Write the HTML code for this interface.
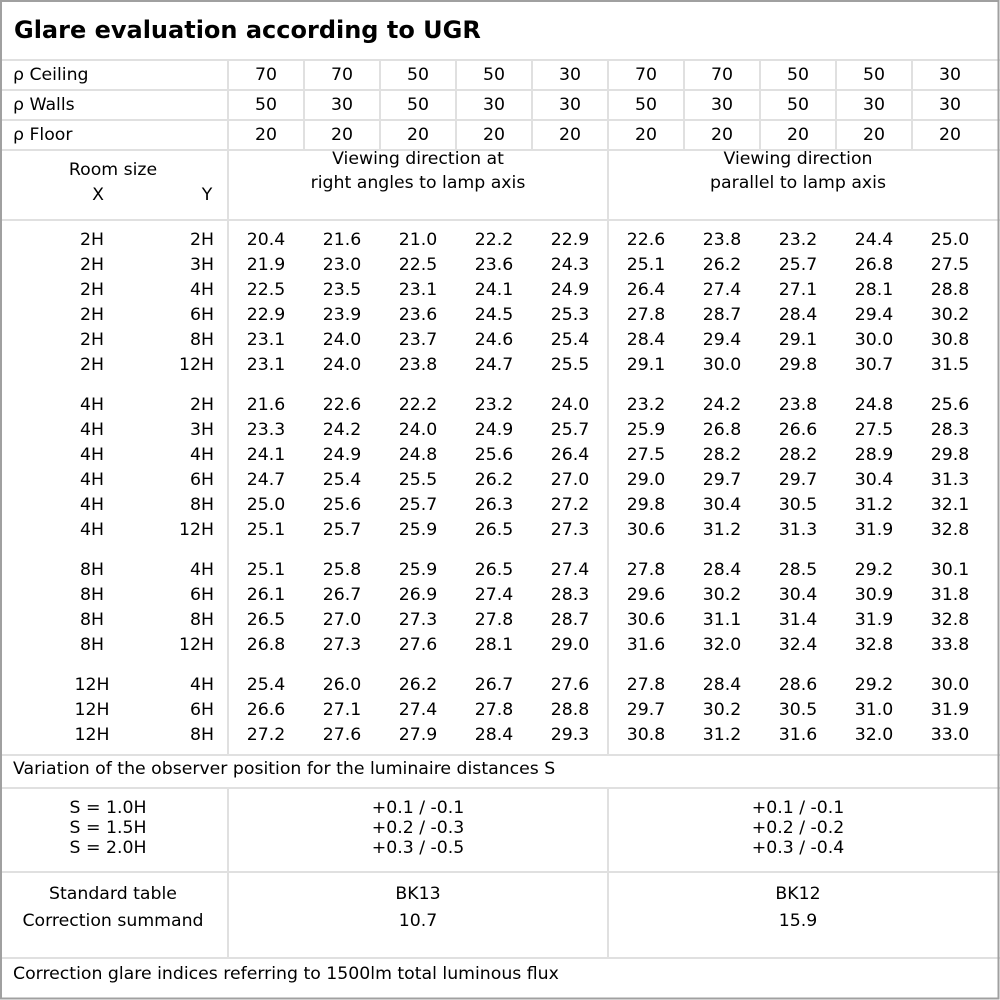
<!DOCTYPE html>
<html><head><meta charset="utf-8"><style>
html,body{margin:0;padding:0;background:#fff}
svg{display:block}
text{font-family:"DejaVu Sans","Liberation Sans",sans-serif;font-size:17.3px;fill:#000;dominant-baseline:central;transform:translateY(1px)}
.c{text-anchor:middle}.e{text-anchor:end}
</style></head><body>
<svg width="1000" height="1000" viewBox="0 0 1000 1000" xmlns="http://www.w3.org/2000/svg">
<rect x="0" y="0" width="1000" height="1000" fill="#fff"/>
<g stroke="#e0e0e0" stroke-width="2">
<line x1="0" y1="60" x2="1000" y2="60"/>
<line x1="0" y1="90" x2="1000" y2="90"/>
<line x1="0" y1="120" x2="1000" y2="120"/>
<line x1="0" y1="150" x2="1000" y2="150"/>
<line x1="0" y1="220" x2="1000" y2="220"/>
<line x1="0" y1="755" x2="1000" y2="755"/>
<line x1="0" y1="788" x2="1000" y2="788"/>
<line x1="0" y1="872" x2="1000" y2="872"/>
<line x1="0" y1="958" x2="1000" y2="958"/>
<line x1="228" y1="60" x2="228" y2="755"/>
<line x1="228" y1="788" x2="228" y2="958"/>
<line x1="608" y1="60" x2="608" y2="755"/>
<line x1="608" y1="788" x2="608" y2="958"/>
<line x1="304" y1="60" x2="304" y2="150"/>
<line x1="380" y1="60" x2="380" y2="150"/>
<line x1="456" y1="60" x2="456" y2="150"/>
<line x1="532" y1="60" x2="532" y2="150"/>
<line x1="684" y1="60" x2="684" y2="150"/>
<line x1="760" y1="60" x2="760" y2="150"/>
<line x1="836" y1="60" x2="836" y2="150"/>
<line x1="912" y1="60" x2="912" y2="150"/>
</g>
<rect x="1" y="1" width="997.5" height="997.5" fill="none" stroke="#a0a0a0" stroke-width="2"/>
<text x="14" y="29" style="font-size:24px;font-weight:bold">Glare evaluation according to UGR</text>
<text x="13" y="74">ρ Ceiling</text>
<text x="13" y="104">ρ Walls</text>
<text x="13" y="134">ρ Floor</text>
<text class="c" x="266" y="74">70</text><text class="c" x="342" y="74">70</text><text class="c" x="418" y="74">50</text><text class="c" x="494" y="74">50</text><text class="c" x="570" y="74">30</text><text class="c" x="646" y="74">70</text><text class="c" x="722" y="74">70</text><text class="c" x="798" y="74">50</text><text class="c" x="874" y="74">50</text><text class="c" x="950" y="74">30</text>
<text class="c" x="266" y="104">50</text><text class="c" x="342" y="104">30</text><text class="c" x="418" y="104">50</text><text class="c" x="494" y="104">30</text><text class="c" x="570" y="104">30</text><text class="c" x="646" y="104">50</text><text class="c" x="722" y="104">30</text><text class="c" x="798" y="104">50</text><text class="c" x="874" y="104">30</text><text class="c" x="950" y="104">30</text>
<text class="c" x="266" y="134">20</text><text class="c" x="342" y="134">20</text><text class="c" x="418" y="134">20</text><text class="c" x="494" y="134">20</text><text class="c" x="570" y="134">20</text><text class="c" x="646" y="134">20</text><text class="c" x="722" y="134">20</text><text class="c" x="798" y="134">20</text><text class="c" x="874" y="134">20</text><text class="c" x="950" y="134">20</text>
<text class="c" x="113" y="169">Room size</text>
<text class="c" x="98" y="194">X</text>
<text class="c" x="207" y="194">Y</text>
<text class="c" x="418" y="158">Viewing direction at</text>
<text class="c" x="418" y="182">right angles to lamp axis</text>
<text class="c" x="798" y="158">Viewing direction</text>
<text class="c" x="798" y="182">parallel to lamp axis</text>
<text x="13" y="768">Variation of the observer position for the luminaire distances S</text>
<text class="c" x="108" y="807">S = 1.0H</text>
<text class="c" x="108" y="827">S = 1.5H</text>
<text class="c" x="108" y="847">S = 2.0H</text>
<text class="c" x="418" y="807">+0.1 / -0.1</text>
<text class="c" x="418" y="827">+0.2 / -0.3</text>
<text class="c" x="418" y="847">+0.3 / -0.5</text>
<text class="c" x="798" y="807">+0.1 / -0.1</text>
<text class="c" x="798" y="827">+0.2 / -0.2</text>
<text class="c" x="798" y="847">+0.3 / -0.4</text>
<text class="c" x="113" y="893">Standard table</text>
<text class="c" x="113" y="920">Correction summand</text>
<text class="c" x="418" y="893">BK13</text>
<text class="c" x="418" y="920">10.7</text>
<text class="c" x="798" y="893">BK12</text>
<text class="c" x="798" y="920">15.9</text>
<text x="13" y="973">Correction glare indices referring to 1500lm total luminous flux</text>

<text class="c" x="92" y="239">2H</text><text class="e" x="214" y="239">2H</text><text class="c" x="266" y="239">20.4</text><text class="c" x="342" y="239">21.6</text><text class="c" x="418" y="239">21.0</text><text class="c" x="494" y="239">22.2</text><text class="c" x="570" y="239">22.9</text><text class="c" x="646" y="239">22.6</text><text class="c" x="722" y="239">23.8</text><text class="c" x="798" y="239">23.2</text><text class="c" x="874" y="239">24.4</text><text class="c" x="950" y="239">25.0</text>
<text class="c" x="92" y="264">2H</text><text class="e" x="214" y="264">3H</text><text class="c" x="266" y="264">21.9</text><text class="c" x="342" y="264">23.0</text><text class="c" x="418" y="264">22.5</text><text class="c" x="494" y="264">23.6</text><text class="c" x="570" y="264">24.3</text><text class="c" x="646" y="264">25.1</text><text class="c" x="722" y="264">26.2</text><text class="c" x="798" y="264">25.7</text><text class="c" x="874" y="264">26.8</text><text class="c" x="950" y="264">27.5</text>
<text class="c" x="92" y="289">2H</text><text class="e" x="214" y="289">4H</text><text class="c" x="266" y="289">22.5</text><text class="c" x="342" y="289">23.5</text><text class="c" x="418" y="289">23.1</text><text class="c" x="494" y="289">24.1</text><text class="c" x="570" y="289">24.9</text><text class="c" x="646" y="289">26.4</text><text class="c" x="722" y="289">27.4</text><text class="c" x="798" y="289">27.1</text><text class="c" x="874" y="289">28.1</text><text class="c" x="950" y="289">28.8</text>
<text class="c" x="92" y="314">2H</text><text class="e" x="214" y="314">6H</text><text class="c" x="266" y="314">22.9</text><text class="c" x="342" y="314">23.9</text><text class="c" x="418" y="314">23.6</text><text class="c" x="494" y="314">24.5</text><text class="c" x="570" y="314">25.3</text><text class="c" x="646" y="314">27.8</text><text class="c" x="722" y="314">28.7</text><text class="c" x="798" y="314">28.4</text><text class="c" x="874" y="314">29.4</text><text class="c" x="950" y="314">30.2</text>
<text class="c" x="92" y="339">2H</text><text class="e" x="214" y="339">8H</text><text class="c" x="266" y="339">23.1</text><text class="c" x="342" y="339">24.0</text><text class="c" x="418" y="339">23.7</text><text class="c" x="494" y="339">24.6</text><text class="c" x="570" y="339">25.4</text><text class="c" x="646" y="339">28.4</text><text class="c" x="722" y="339">29.4</text><text class="c" x="798" y="339">29.1</text><text class="c" x="874" y="339">30.0</text><text class="c" x="950" y="339">30.8</text>
<text class="c" x="92" y="364">2H</text><text class="e" x="214" y="364">12H</text><text class="c" x="266" y="364">23.1</text><text class="c" x="342" y="364">24.0</text><text class="c" x="418" y="364">23.8</text><text class="c" x="494" y="364">24.7</text><text class="c" x="570" y="364">25.5</text><text class="c" x="646" y="364">29.1</text><text class="c" x="722" y="364">30.0</text><text class="c" x="798" y="364">29.8</text><text class="c" x="874" y="364">30.7</text><text class="c" x="950" y="364">31.5</text>

<text class="c" x="92" y="404">4H</text><text class="e" x="214" y="404">2H</text><text class="c" x="266" y="404">21.6</text><text class="c" x="342" y="404">22.6</text><text class="c" x="418" y="404">22.2</text><text class="c" x="494" y="404">23.2</text><text class="c" x="570" y="404">24.0</text><text class="c" x="646" y="404">23.2</text><text class="c" x="722" y="404">24.2</text><text class="c" x="798" y="404">23.8</text><text class="c" x="874" y="404">24.8</text><text class="c" x="950" y="404">25.6</text>
<text class="c" x="92" y="429">4H</text><text class="e" x="214" y="429">3H</text><text class="c" x="266" y="429">23.3</text><text class="c" x="342" y="429">24.2</text><text class="c" x="418" y="429">24.0</text><text class="c" x="494" y="429">24.9</text><text class="c" x="570" y="429">25.7</text><text class="c" x="646" y="429">25.9</text><text class="c" x="722" y="429">26.8</text><text class="c" x="798" y="429">26.6</text><text class="c" x="874" y="429">27.5</text><text class="c" x="950" y="429">28.3</text>
<text class="c" x="92" y="454">4H</text><text class="e" x="214" y="454">4H</text><text class="c" x="266" y="454">24.1</text><text class="c" x="342" y="454">24.9</text><text class="c" x="418" y="454">24.8</text><text class="c" x="494" y="454">25.6</text><text class="c" x="570" y="454">26.4</text><text class="c" x="646" y="454">27.5</text><text class="c" x="722" y="454">28.2</text><text class="c" x="798" y="454">28.2</text><text class="c" x="874" y="454">28.9</text><text class="c" x="950" y="454">29.8</text>
<text class="c" x="92" y="479">4H</text><text class="e" x="214" y="479">6H</text><text class="c" x="266" y="479">24.7</text><text class="c" x="342" y="479">25.4</text><text class="c" x="418" y="479">25.5</text><text class="c" x="494" y="479">26.2</text><text class="c" x="570" y="479">27.0</text><text class="c" x="646" y="479">29.0</text><text class="c" x="722" y="479">29.7</text><text class="c" x="798" y="479">29.7</text><text class="c" x="874" y="479">30.4</text><text class="c" x="950" y="479">31.3</text>
<text class="c" x="92" y="504">4H</text><text class="e" x="214" y="504">8H</text><text class="c" x="266" y="504">25.0</text><text class="c" x="342" y="504">25.6</text><text class="c" x="418" y="504">25.7</text><text class="c" x="494" y="504">26.3</text><text class="c" x="570" y="504">27.2</text><text class="c" x="646" y="504">29.8</text><text class="c" x="722" y="504">30.4</text><text class="c" x="798" y="504">30.5</text><text class="c" x="874" y="504">31.2</text><text class="c" x="950" y="504">32.1</text>
<text class="c" x="92" y="529">4H</text><text class="e" x="214" y="529">12H</text><text class="c" x="266" y="529">25.1</text><text class="c" x="342" y="529">25.7</text><text class="c" x="418" y="529">25.9</text><text class="c" x="494" y="529">26.5</text><text class="c" x="570" y="529">27.3</text><text class="c" x="646" y="529">30.6</text><text class="c" x="722" y="529">31.2</text><text class="c" x="798" y="529">31.3</text><text class="c" x="874" y="529">31.9</text><text class="c" x="950" y="529">32.8</text>

<text class="c" x="92" y="569">8H</text><text class="e" x="214" y="569">4H</text><text class="c" x="266" y="569">25.1</text><text class="c" x="342" y="569">25.8</text><text class="c" x="418" y="569">25.9</text><text class="c" x="494" y="569">26.5</text><text class="c" x="570" y="569">27.4</text><text class="c" x="646" y="569">27.8</text><text class="c" x="722" y="569">28.4</text><text class="c" x="798" y="569">28.5</text><text class="c" x="874" y="569">29.2</text><text class="c" x="950" y="569">30.1</text>
<text class="c" x="92" y="594">8H</text><text class="e" x="214" y="594">6H</text><text class="c" x="266" y="594">26.1</text><text class="c" x="342" y="594">26.7</text><text class="c" x="418" y="594">26.9</text><text class="c" x="494" y="594">27.4</text><text class="c" x="570" y="594">28.3</text><text class="c" x="646" y="594">29.6</text><text class="c" x="722" y="594">30.2</text><text class="c" x="798" y="594">30.4</text><text class="c" x="874" y="594">30.9</text><text class="c" x="950" y="594">31.8</text>
<text class="c" x="92" y="619">8H</text><text class="e" x="214" y="619">8H</text><text class="c" x="266" y="619">26.5</text><text class="c" x="342" y="619">27.0</text><text class="c" x="418" y="619">27.3</text><text class="c" x="494" y="619">27.8</text><text class="c" x="570" y="619">28.7</text><text class="c" x="646" y="619">30.6</text><text class="c" x="722" y="619">31.1</text><text class="c" x="798" y="619">31.4</text><text class="c" x="874" y="619">31.9</text><text class="c" x="950" y="619">32.8</text>
<text class="c" x="92" y="644">8H</text><text class="e" x="214" y="644">12H</text><text class="c" x="266" y="644">26.8</text><text class="c" x="342" y="644">27.3</text><text class="c" x="418" y="644">27.6</text><text class="c" x="494" y="644">28.1</text><text class="c" x="570" y="644">29.0</text><text class="c" x="646" y="644">31.6</text><text class="c" x="722" y="644">32.0</text><text class="c" x="798" y="644">32.4</text><text class="c" x="874" y="644">32.8</text><text class="c" x="950" y="644">33.8</text>

<text class="c" x="92" y="684">12H</text><text class="e" x="214" y="684">4H</text><text class="c" x="266" y="684">25.4</text><text class="c" x="342" y="684">26.0</text><text class="c" x="418" y="684">26.2</text><text class="c" x="494" y="684">26.7</text><text class="c" x="570" y="684">27.6</text><text class="c" x="646" y="684">27.8</text><text class="c" x="722" y="684">28.4</text><text class="c" x="798" y="684">28.6</text><text class="c" x="874" y="684">29.2</text><text class="c" x="950" y="684">30.0</text>
<text class="c" x="92" y="709">12H</text><text class="e" x="214" y="709">6H</text><text class="c" x="266" y="709">26.6</text><text class="c" x="342" y="709">27.1</text><text class="c" x="418" y="709">27.4</text><text class="c" x="494" y="709">27.8</text><text class="c" x="570" y="709">28.8</text><text class="c" x="646" y="709">29.7</text><text class="c" x="722" y="709">30.2</text><text class="c" x="798" y="709">30.5</text><text class="c" x="874" y="709">31.0</text><text class="c" x="950" y="709">31.9</text>
<text class="c" x="92" y="734">12H</text><text class="e" x="214" y="734">8H</text><text class="c" x="266" y="734">27.2</text><text class="c" x="342" y="734">27.6</text><text class="c" x="418" y="734">27.9</text><text class="c" x="494" y="734">28.4</text><text class="c" x="570" y="734">29.3</text><text class="c" x="646" y="734">30.8</text><text class="c" x="722" y="734">31.2</text><text class="c" x="798" y="734">31.6</text><text class="c" x="874" y="734">32.0</text><text class="c" x="950" y="734">33.0</text>
</svg>
</body></html>
